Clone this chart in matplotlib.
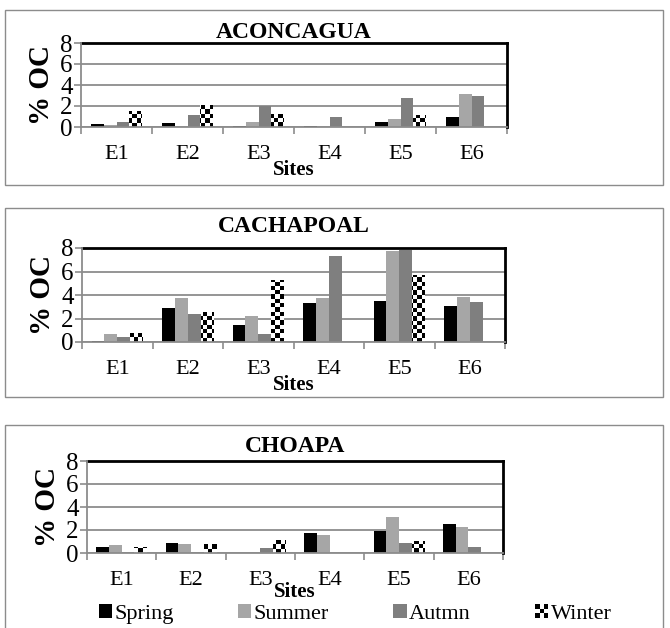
import numpy as np
import matplotlib
matplotlib.use("Agg")
import matplotlib.pyplot as plt
from matplotlib.patches import Rectangle
from matplotlib.legend_handler import HandlerBase

sites = ["E1", "E2", "E3", "E4", "E5", "E6"]
seasons = ["Spring", "Summer", "Autmn", "Winter"]
rivers = ["ACONCAGUA", "CACHAPOAL", "CHOAPA"]

aconcagua_spring = [0.33, 0.40, 0.10, 0.10, 0.50, 0.95]
aconcagua_summer = [0.15, 0.05, 0.45, 0.05, 0.80, 3.15]
aconcagua_autumn = [0.45, 1.10, 2.00, 0.95, 2.80, 2.95]
aconcagua_winter = [1.55, 2.10, 1.25, 0.00, 1.15, 0.00]

cachapoal_spring = [0.10, 2.87, 1.42, 3.32, 3.52, 3.10]
cachapoal_summer = [0.65, 3.75, 2.20, 3.75, 7.72, 3.80]
cachapoal_autumn = [0.45, 2.40, 0.70, 7.30, 7.80, 3.40]
cachapoal_winter = [0.80, 2.55, 5.25, 0.00, 5.70, 0.00]

choapa_spring = [0.55, 0.90, 0.00, 1.70, 1.95, 2.50]
choapa_summer = [0.67, 0.78, 0.00, 1.53, 3.10, 2.30]
choapa_autumn = [0.12, 0.05, 0.45, 0.00, 0.83, 0.50]
choapa_winter = [0.55, 0.78, 1.13, 0.00, 1.05, 0.00]

y_ticks = [0, 2, 4, 6, 8]

data = {
    "ACONCAGUA": [aconcagua_spring, aconcagua_summer, aconcagua_autumn, aconcagua_winter],
    "CACHAPOAL": [cachapoal_spring, cachapoal_summer, cachapoal_autumn, cachapoal_winter],
    "CHOAPA": [choapa_spring, choapa_summer, choapa_autumn, choapa_winter],
}

plt.rcParams["font.family"] = ["Liberation Serif", "DejaVu Serif"]

W, H = 670, 628
fig = plt.figure(figsize=(W / 100, H / 100), dpi=100)

colors = ["#000000", "#a6a6a6", "#7f7f7f", "white"]
grid_c = "#8c8c8c"

# axes rectangles in pixels: left, right, top, bottom
axes_px = [(81, 507, 43, 127), (82, 505, 248, 342), (87, 503, 461, 553)]
boxes_px = [(5, 663, 10, 185), (5, 663, 208, 397), (5, 663, 425, 640)]
title_y_px = [33, 226, 446]
xlabel_pads = [-3, -3, -6]

n = 4
gap = 1.5
bw = 1.0 / (n + gap)


def checker(rows, cols):
    r, c = np.indices((rows, cols))
    return ((r + c) % 2).astype(float)


axes = []
for k, river in enumerate(rivers):
    l, r, t, b = axes_px[k]
    ax = fig.add_axes([l / W, 1 - b / H, (r - l) / W, (b - t) / H])
    axes.append(ax)
    x = np.arange(len(sites))
    bars_all = []
    for i, vals in enumerate(data[river]):
        off = (i - (n - 1) / 2) * bw
        bars = ax.bar(x + off, vals, width=bw, color=colors[i], edgecolor="none",
                      zorder=3, label=seasons[i])
        bars_all.append(bars)
    ax.set_xlim(-0.5, 5.5)
    ax.set_ylim(0, 8)
    # checker pattern for winter
    pxw = (r - l) / 6.0
    pxh = (b - t) / 8.0
    sq = 4.3
    cols = int(np.ceil(6 * pxw / sq))
    rows = int(np.ceil(8 * pxh / sq))
    img = checker(rows, cols)
    for p in bars_all[3]:
        if p.get_height() <= 0:
            continue
        im = ax.imshow(img, cmap="gray", interpolation="nearest",
                       extent=(-0.5, -0.5 + cols * sq / pxw, 0, rows * sq / pxh),
                       origin="lower", zorder=4, aspect="auto")
        im.set_clip_path(p)
    ax.set_xlim(-0.5, 5.5)
    ax.set_ylim(0, 8)
    ax.set_aspect("auto")

    ax.set_yticks(y_ticks)
    ax.set_yticklabels([str(v) for v in y_ticks], fontsize=18)
    ax.yaxis.grid(True, color=grid_c, lw=1.3, zorder=0)
    ax.set_axisbelow(True)
    ax.set_xticks(x)
    ax.set_xticklabels(sites, fontsize=16)
    ax.set_xticks(np.arange(-0.5, 6.0, 1.0), minor=True)
    ax.tick_params(axis="x", which="major", length=0, pad=13)
    ax.tick_params(axis="x", which="minor", length=5, color=grid_c, width=1.2, direction="out")
    ax.tick_params(axis="y", length=5, color=grid_c, width=1.2, direction="out", pad=1)
    for s in ["left", "bottom"]:
        ax.spines[s].set_color(grid_c)
        ax.spines[s].set_linewidth(1.3)
        ax.spines[s].set_zorder(5)
    for s in ["top", "right"]:
        ax.spines[s].set_color("black")
        ax.spines[s].set_linewidth(2.0)
    ax.set_xlabel("Sites", fontsize=15, fontweight="bold", labelpad=xlabel_pads[k])
    ax.set_ylabel("% OC", fontsize=21, fontweight="bold", labelpad=4)
    fig.text((l + r) / 2 / W, 1 - title_y_px[k] / H, river, fontsize=17,
             fontweight="bold", ha="center", va="center")

    bl, br, bt, bb = boxes_px[k]
    fig.patches.append(Rectangle((bl / W, 1 - bb / H), (br - bl) / W, (bb - bt) / H,
                                 transform=fig.transFigure, fill=False,
                                 edgecolor="#8c8c8c", lw=1.0))


class CheckerHandler(HandlerBase):
    def create_artists(self, legend, orig_handle, xdescent, ydescent, width, height,
                       fontsize, trans):
        arts = []
        s = min(width, height)
        x0 = -xdescent + (width - s)
        y0 = -ydescent + (height - s) / 2
        k = 3
        d = s / k
        for i in range(k):
            for j in range(k):
                fc = "black" if (i + j) % 2 == 0 else "white"
                arts.append(Rectangle((x0 + i * d, y0 + j * d), d, d, facecolor=fc,
                                      edgecolor="none", transform=trans))
        return arts


handles = [Rectangle((0, 0), 1, 1, facecolor=c, edgecolor="none") for c in colors[:3]]
winter_handle = Rectangle((0, 0), 1, 1, facecolor="white")
handles.append(winter_handle)
leg = fig.legend(handles, seasons, loc="center", bbox_to_anchor=(0.53, 1 - 614 / H),
                 ncol=4, frameon=False, fontsize=16, handlelength=0.6,
                 handleheight=0.6, handletextpad=0.1, columnspacing=2.9,
                 borderpad=0.0, handler_map={winter_handle: CheckerHandler()})

fig.savefig("out.png", dpi=100)
